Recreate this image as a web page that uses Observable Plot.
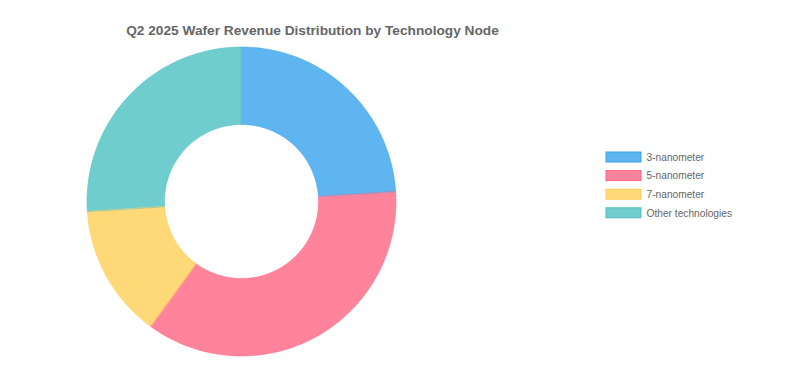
<!DOCTYPE html>
<html>
<head>
<meta charset="utf-8">
<script src="https://cdn.jsdelivr.net/npm/d3@7"></script>
<script src="https://cdn.jsdelivr.net/npm/@observablehq/plot@0.6"></script>
<style>
  html, body { margin: 0; padding: 0; background: #fff; }
  #chart svg { display: block; }
</style>
</head>
<body>
<div id="chart"></div>
<script>
const title = "Q2 2025 Wafer Revenue Distribution by Technology Node";
const categories = ["3-nanometer", "5-nanometer", "7-nanometer", "Other technologies"];
const shares = [24, 36, 14, 26];
const fillColors = ["#5eb5ef", "#ff839b", "#ffd878", "#6fcdcd"];
const strokeColors = ["#36a2eb", "#ff6384", "#ffce56", "#4bc0c0"];

const W = 793, H = 378;
const cx = 241, cy = 201, rOuter = 154.5, rInner = 77;

// Build slice polygons from the data via d3.pie
const pie = d3.pie().sort(null).value(d => d.value);
const arcs = pie(categories.map((c, i) => ({key: c, value: shares[i]})));
const pts = [];
for (const a of arcs) {
  const n = Math.max(8, Math.ceil((a.endAngle - a.startAngle) / (2 * Math.PI) * 240));
  for (let k = 0; k <= n; k++) {
    const t = a.startAngle + (a.endAngle - a.startAngle) * k / n;
    pts.push({key: a.data.key, x: cx + rOuter * Math.sin(t), y: cy - rOuter * Math.cos(t)});
  }
  for (let k = n; k >= 0; k--) {
    const t = a.startAngle + (a.endAngle - a.startAngle) * k / n;
    pts.push({key: a.data.key, x: cx + rInner * Math.sin(t), y: cy - rInner * Math.cos(t)});
  }
}

const legend = categories.map((c, i) => ({key: c, i}));
const ly0 = 157, lstep = 18.6;

const chart = Plot.plot({
  width: W, height: H,
  margin: 0,
  style: {fontFamily: "'Liberation Sans', Arial, Helvetica, sans-serif", background: "#fff"},
  x: {domain: [0, W], range: [0, W], axis: null},
  y: {domain: [0, H], range: [0, H], axis: null},
  color: {domain: categories, range: fillColors},
  marks: [
    Plot.line(pts, {x: "x", y: "y", z: "key", fill: "key", stroke: "key", strokeWidth: 0, curve: "linear-closed"}),
    ...categories.map((c, i) => Plot.line(pts.filter(p => p.key === c), {x: "x", y: "y", stroke: strokeColors[i], strokeWidth: 0.8, strokeOpacity: 0.6, curve: "linear-closed"})),
    Plot.text([title], {x: () => 312, y: () => 30, text: d => d, fontSize: 13.7, fontWeight: "bold", fill: "#666", textAnchor: "middle"}),
    Plot.rect(legend, {x1: () => 606, x2: () => 641, y1: d => ly0 + d.i * lstep - 5, y2: d => ly0 + d.i * lstep + 5, fill: "key", stroke: d => strokeColors[d.i], strokeWidth: 1}),
    Plot.text(legend, {x: () => 646, y: d => ly0 + d.i * lstep, text: "key", fontSize: 10.2, fill: "#666", textAnchor: "start"})
  ]
});
document.getElementById("chart").appendChild(chart);
</script>
</body>
</html>
